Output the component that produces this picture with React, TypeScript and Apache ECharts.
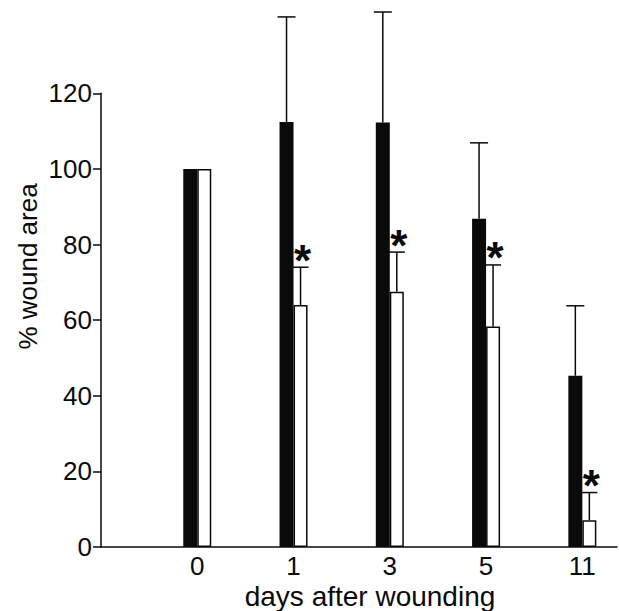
import React, { useEffect, useRef } from "react";
import * as echarts from "echarts";

const dayLabels = ["0", "1", "3", "5", "11"];
const controlMeans = [100, 112.4, 112.3, 86.8, 45.3];
const controlErrors = [0, 27.8, 29.2, 20.1, 18.5];
const treatedMeans = [100, 64.0, 67.5, 58.3, 7.1];
const treatedErrors = [0, 10.0, 10.5, 16.3, 7.3];
const treatedSignificant = [false, true, true, true, true];

const FONT = "'Liberation Sans', Arial, Helvetica, sans-serif";
const INK = "#0a0a0a";

function makeErrorRenderer(offset: number, capWidth: number) {
  return (params: any, api: any) => {
    const x = api.value(0);
    const v = api.value(1);
    const e = api.value(2);
    const sig = api.value(3);
    if (!e) return { type: "group", children: [] };
    const base = api.coord([x, v]);
    const top = api.coord([x, v + e]);
    const cx = base[0] + offset;
    const children: any[] = [
      {
        type: "line",
        shape: { x1: cx, y1: base[1], x2: cx, y2: top[1] },
        style: { stroke: INK, lineWidth: 1.5 },
      },
      {
        type: "line",
        shape: { x1: cx - capWidth / 2, y1: top[1], x2: cx + capWidth / 2, y2: top[1] },
        style: { stroke: INK, lineWidth: 1.5 },
      },
    ];
    if (sig) {
      children.push({
        type: "text",
        x: cx + 2,
        y: top[1] - 7,
        style: {
          text: "*",
          fontSize: 44,
          fontWeight: "bold",
          fontFamily: FONT,
          fill: INK,
          align: "center",
          verticalAlign: "middle",
        },
      });
    }
    return { type: "group", children };
  };
}

export default function App() {
  const ref = useRef<HTMLDivElement>(null);

  useEffect(() => {
    if (!ref.current) return;
    const chart = echarts.init(ref.current, undefined, { renderer: "svg" });
    const idx = dayLabels.map((_, i) => i);
    chart.setOption({
      animation: false,
      backgroundColor: "#ffffff",
      grid: { left: 101, right: 2, top: 93.3, bottom: 64, containLabel: false },
      xAxis: {
        type: "value",
        min: -1,
        max: 4.36,
        interval: 1,
        axisLine: { show: true, onZero: false, lineStyle: { color: INK, width: 1.5 } },
        axisTick: { show: false },
        splitLine: { show: false },
        axisLabel: {
          margin: 6,
          fontSize: 26,
          fontFamily: FONT,
          color: INK,
          showMinLabel: false,
          showMaxLabel: false,
          formatter: (v: number) => {
            const i = Math.round(v);
            return Math.abs(v - i) < 1e-6 && i >= 0 && i < dayLabels.length ? dayLabels[i] : "";
          },
        },
      },
      yAxis: {
        type: "value",
        min: 0,
        max: 120,
        interval: 20,
        axisLine: { show: true, onZero: false, lineStyle: { color: INK, width: 1.5 } },
        axisTick: { show: true, length: 8, lineStyle: { color: INK, width: 1.5 } },
        splitLine: { show: false },
        axisLabel: { margin: 9, fontSize: 26, fontFamily: FONT, color: INK },
      },
      graphic: [
        {
          type: "text",
          x: 28,
          y: 266.5,
          rotation: Math.PI / 2,
          style: {
            text: "% wound area",
            fontSize: 26,
            fontFamily: FONT,
            fill: INK,
            align: "center",
            verticalAlign: "middle",
          },
        },
        {
          type: "text",
          x: 370,
          y: 596,
          style: {
            text: "days after wounding",
            fontSize: 28,
            fontFamily: FONT,
            fill: INK,
            align: "center",
            verticalAlign: "middle",
          },
        },
      ],
      series: [
        {
          type: "bar",
          name: "control",
          data: idx.map((i) => [i, controlMeans[i]]),
          barWidth: 14,
          barGap: "0%",
          itemStyle: { color: INK },
        },
        {
          type: "bar",
          name: "treated",
          data: idx.map((i) => [i, treatedMeans[i]]),
          barWidth: 14,
          barGap: "0%",
          itemStyle: { color: "#ffffff", borderColor: INK, borderWidth: 1.5 },
        },
        {
          type: "custom",
          name: "control error",
          encode: { x: 0, y: 1 },
          clip: false,
          z: 5,
          renderItem: makeErrorRenderer(-7, 18),
          data: idx.map((i) => [i, controlMeans[i], controlErrors[i], 0]),
        },
        {
          type: "custom",
          name: "treated error",
          encode: { x: 0, y: 1 },
          clip: false,
          z: 5,
          renderItem: makeErrorRenderer(7, 16),
          data: idx.map((i) => [i, treatedMeans[i], treatedErrors[i], treatedSignificant[i] ? 1 : 0]),
        },
      ],
    });
    return () => chart.dispose();
  }, []);

  return (
    <div
      ref={ref}
      style={{ position: "fixed", left: 0, top: 0, width: 619, height: 611, background: "#fff" }}
    />
  );
}
